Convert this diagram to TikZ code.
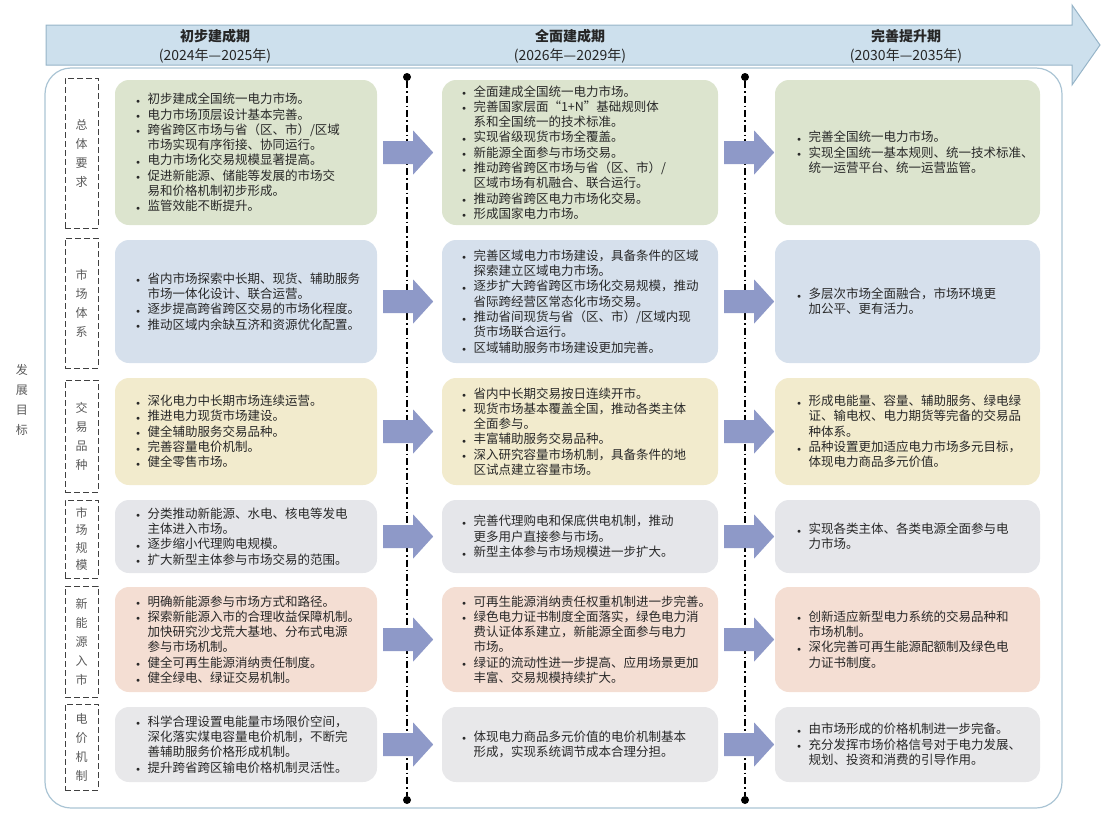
\documentclass[tikz,border=0pt]{standalone}
\usepackage{fontspec}
\setmainfont{Noto Sans CJK SC}
\usetikzlibrary{calc}
\definecolor{cgreen}{RGB}{220,228,206}
\definecolor{cblue}{RGB}{214,224,236}
\definecolor{cyellow}{RGB}{242,235,205}
\definecolor{cgray}{RGB}{229,230,234}
\definecolor{cpink}{RGB}{244,222,211}
\definecolor{cgraytwo}{RGB}{232,232,234}
\definecolor{arrowc}{RGB}{142,153,200}
\definecolor{bandfill}{RGB}{205,224,237}
\definecolor{banddraw}{RGB}{150,180,200}
\definecolor{contdraw}{RGB}{170,196,212}
\definecolor{txtc}{RGB}{40,40,40}
\definecolor{lblc}{RGB}{90,90,90}
\newcommand\bu{\makebox[11.5pt][l]{\raisebox{0.5pt}{\scriptsize$\bullet$}}}
\newcommand\ct{\hspace*{11.5pt}}
\tikzset{
  goalbox/.style={rounded corners=14pt, inner sep=0pt, draw=none},
  goaltext/.style={anchor=west, align=left, inner sep=0pt, text=txtc, font=\fontsize{12.5}{15.3}\selectfont},
  catbox/.style={draw=black!75, dash pattern=on 6pt off 3pt, line width=1pt, inner sep=0pt, minimum width=33pt, align=center, text=lblc, font=\fontsize{12}{19}\selectfont},
  flowarrow/.style={fill=arrowc, draw=none},
  phase/.style={align=center, text=black!85, font=\fontsize{14}{19}\selectfont},
  divider/.style={line width=1.1pt, dash pattern=on 7pt off 3pt on 1.5pt off 3pt},
  enddot/.style={circle, fill=black, inner sep=0pt, minimum size=8pt},
}
\begin{document}
\begin{tikzpicture}[x=1pt,y=-1pt]
\useasboundingbox (0,0) rectangle (1109,814);
% frame
\node[draw=contdraw, line width=1.2pt, rounded corners=26pt, minimum width=1017pt, minimum height=740pt, inner sep=0pt] (frame) at (553.5,438) {};
% header band arrow
\draw[fill=bandfill, draw=banddraw, line width=1pt] (46,25) -- (1072,25) -- (1072,5) -- (1100,45) -- (1072,85) -- (1072,65) -- (46,65) -- cycle;
\node[phase] (p1) at (215,46) {\textbf{初步建成期}\\(2024年—2025年)};
\node[phase] (p2) at (570,46) {\textbf{全面建成期}\\(2026年—2029年)};
\node[phase] (p3) at (906,46) {\textbf{完善提升期}\\(2030年—2035年)};
% side label
\node[align=center, text=lblc, font=\fontsize{12}{20}\selectfont] (goal) at (22,400) {发\\展\\目\\标};
% category boxes
\node[catbox, minimum height=150pt] (c1) at (81.5,153) {总\\体\\要\\求};
\node[catbox, minimum height=130pt] (c2) at (81.5,303) {市\\场\\体\\系};
\node[catbox, minimum height=112pt] (c3) at (81.5,436) {交\\易\\品\\种};
\node[catbox, minimum height=78pt, font=\fontsize{12}{17.5}\selectfont] (c4) at (81.5,539) {市\\场\\规\\模};
\node[catbox, minimum height=111pt] (c5) at (81.5,641.5) {新\\能\\源\\入\\市};
\node[catbox, minimum height=86pt] (c6) at (81.5,747) {电\\价\\机\\制};
% dividers
\node[enddot] (d1t) at (407,77) {};
\node[enddot] (d1b) at (407,800) {};
\node[enddot] (d2t) at (745,77) {};
\node[enddot] (d2b) at (745,800) {};
\draw[divider] (d1t) -- (d1b);
\draw[divider] (d2t) -- (d2b);
% goal boxes: left column a, middle b, right r
\foreach \n/\col/\cy/\h in {1/cgreen/152.5/145, 2/cblue/301.5/123, 3/cyellow/431.5/107, 4/cgray/536.5/73, 5/cpink/639.5/105, 6/cgraytwo/744.5/75}{
  \node[goalbox, fill=\col, minimum width=262pt, minimum height=\h pt] (a\n) at (246,\cy) {};
  \node[goalbox, fill=\col, minimum width=276pt, minimum height=\h pt] (b\n) at (580,\cy) {};
  \node[goalbox, fill=\col, minimum width=265pt, minimum height=\h pt] (r\n) at (907.5,\cy) {};
}
% arrows
\foreach \n in {1,...,6}{
  \fill[flowarrow] ($(a\n.east)+(6,0)$) ++(0,-11.5) -- ++(30,0) -- ++(0,-10.5) -- ++(20,22) -- ++(-20,22) -- ++(0,-10.5) -- ++(-30,0) -- cycle;
  \fill[flowarrow] ($(b\n.east)+(6,0)$) ++(0,-11.5) -- ++(30,0) -- ++(0,-10.5) -- ++(20,22) -- ++(-20,22) -- ++(0,-10.5) -- ++(-30,0) -- cycle;
}
% texts row 1
\node[goaltext] (ta1) at ($(a1.west)+(21,0)$) {\bu 初步建成全国统一电力市场。\\ \bu 电力市场顶层设计基本完善。\\ \bu 跨省跨区市场与省（区、市）/区域\\ \ct 市场实现有序衔接、协同运行。\\ \bu 电力市场化交易规模显著提高。\\ \bu 促进新能源、储能等发展的市场交\\ \ct 易和价格机制初步形成。\\ \bu 监管效能不断提升。};
\node[goaltext] (tb1) at ($(b1.west)+(20,0)$) {\bu 全面建成全国统一电力市场。\\ \bu 完善国家层面“1+N”基础规则体\\ \ct 系和全国统一的技术标准。\\ \bu 实现省级现货市场全覆盖。\\ \bu 新能源全面参与市场交易。\\ \bu 推动跨省跨区市场与省（区、市）/\\ \ct 区域市场有机融合、联合运行。\\ \bu 推动跨省跨区电力市场化交易。\\ \bu 形成国家电力市场。};
\node[goaltext] (tr1) at ($(r1.west)+(22,0)$) {\bu 完善全国统一电力市场。\\ \bu 实现全国统一基本规则、统一技术标准、\\ \ct 统一运营平台、统一运营监管。};
% row 2
\node[goaltext] (ta2) at ($(a2.west)+(21,0)$) {\bu 省内市场探索中长期、现货、辅助服务\\ \ct 市场一体化设计、联合运营。\\ \bu 逐步提高跨省跨区交易的市场化程度。\\ \bu 推动区域内余缺互济和资源优化配置。};
\node[goaltext] (tb2) at ($(b2.west)+(20,0)$) {\bu 完善区域电力市场建设，具备条件的区域\\ \ct 探索建立区域电力市场。\\ \bu 逐步扩大跨省跨区市场化交易规模，推动\\ \ct 省际跨经营区常态化市场交易。\\ \bu 推动省间现货与省（区、市）/区域内现\\ \ct 货市场联合运行。\\ \bu 区域辅助服务市场建设更加完善。};
\node[goaltext] (tr2) at ($(r2.west)+(22,0)$) {\bu 多层次市场全面融合，市场环境更\\ \ct 加公平、更有活力。};
% row 3
\node[goaltext] (ta3) at ($(a3.west)+(21,0)$) {\bu 深化电力中长期市场连续运营。\\ \bu 推进电力现货市场建设。\\ \bu 健全辅助服务交易品种。\\ \bu 完善容量电价机制。\\ \bu 健全零售市场。};
\node[goaltext] (tb3) at ($(b3.west)+(20,0)$) {\bu 省内中长期交易按日连续开市。\\ \bu 现货市场基本覆盖全国，推动各类主体\\ \ct 全面参与。\\ \bu 丰富辅助服务交易品种。\\ \bu 深入研究容量市场机制，具备条件的地\\ \ct 区试点建立容量市场。};
\node[goaltext] (tr3) at ($(r3.west)+(22,0)$) {\bu 形成电能量、容量、辅助服务、绿电绿\\ \ct 证、输电权、电力期货等完备的交易品\\ \ct 种体系。\\ \bu 品种设置更加适应电力市场多元目标，\\ \ct 体现电力商品多元价值。};
% row 4
\node[goaltext] (ta4) at ($(a4.west)+(21,0)$) {\bu 分类推动新能源、水电、核电等发电\\ \ct 主体进入市场。\\ \bu 逐步缩小代理购电规模。\\ \bu 扩大新型主体参与市场交易的范围。};
\node[goaltext] (tb4) at ($(b4.west)+(20,0)$) {\bu 完善代理购电和保底供电机制，推动\\ \ct 更多用户直接参与市场。\\ \bu 新型主体参与市场规模进一步扩大。};
\node[goaltext] (tr4) at ($(r4.west)+(22,0)$) {\bu 实现各类主体、各类电源全面参与电\\ \ct 力市场。};
% row 5
\node[goaltext] (ta5) at ($(a5.west)+(21,0)$) {\bu 明确新能源参与市场方式和路径。\\ \bu 探索新能源入市的合理收益保障机制。\\ \ct 加快研究沙戈荒大基地、分布式电源\\ \ct 参与市场机制。\\ \bu 健全可再生能源消纳责任制度。\\ \bu 健全绿电、绿证交易机制。};
\node[goaltext] (tb5) at ($(b5.west)+(20,0)$) {\bu 可再生能源消纳责任权重机制进一步完善。\\ \bu 绿色电力证书制度全面落实，绿色电力消\\ \ct 费认证体系建立，新能源全面参与电力\\ \ct 市场。\\ \bu 绿证的流动性进一步提高、应用场景更加\\ \ct 丰富、交易规模持续扩大。};
\node[goaltext] (tr5) at ($(r5.west)+(22,0)$) {\bu 创新适应新型电力系统的交易品种和\\ \ct 市场机制。\\ \bu 深化完善可再生能源配额制及绿色电\\ \ct 力证书制度。};
% row 6
\node[goaltext] (ta6) at ($(a6.west)+(21,0)$) {\bu 科学合理设置电能量市场限价空间，\\ \ct 深化落实煤电容量电价机制，不断完\\ \ct 善辅助服务价格形成机制。\\ \bu 提升跨省跨区输电价格机制灵活性。};
\node[goaltext] (tb6) at ($(b6.west)+(20,0)$) {\bu 体现电力商品多元价值的电价机制基本\\ \ct 形成，实现系统调节成本合理分担。};
\node[goaltext] (tr6) at ($(r6.west)+(22,0)$) {\bu 由市场形成的价格机制进一步完备。\\ \bu 充分发挥市场价格信号对于电力发展、\\ \ct 规划、投资和消费的引导作用。};
\end{tikzpicture}
\end{document}
